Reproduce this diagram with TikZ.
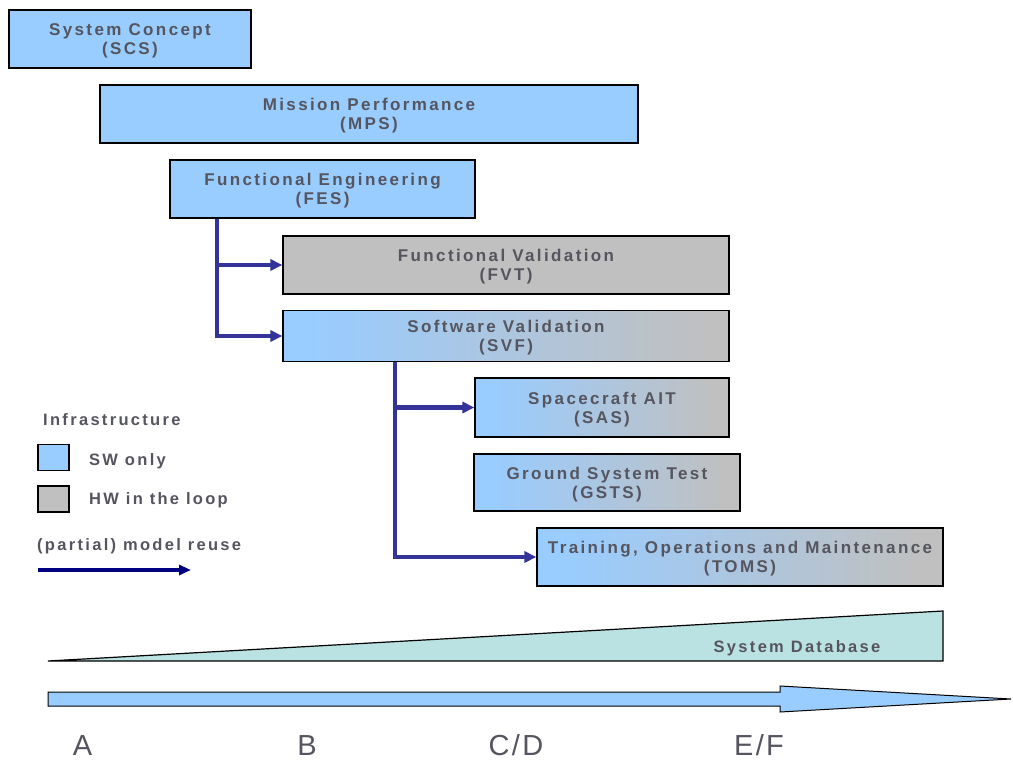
\documentclass[tikz,border=0pt]{standalone}
\usepackage{fontspec}
\setmainfont{Liberation Sans}
\newfontfamily\boxfont[LetterSpace=14]{Liberation Sans}
\newfontfamily\phasefont[LetterSpace=8]{Liberation Sans}
\usetikzlibrary{arrows.meta}

\definecolor{swblue}{RGB}{153,204,255}
\definecolor{hwgray}{RGB}{192,192,192}
\definecolor{dbteal}{RGB}{187,226,226}
\definecolor{linkblue}{RGB}{51,51,153}
\definecolor{reusenavy}{RGB}{0,0,128}
\definecolor{txtgray}{RGB}{85,85,95}

% blue on the left, fading to grey on the right
\pgfdeclarehorizontalshading{swhw}{100bp}{color(0bp)=(swblue); color(28bp)=(swblue); color(72bp)=(hwgray); color(100bp)=(hwgray)}

\tikzset{
  box/.style={draw=black, line width=1.2pt, align=center, inner sep=0pt,
    text height=34.5pt, text depth=3pt,
    text=txtgray, font=\boxfont\bfseries\fontsize{17}{19}\selectfont},
  swbox/.style={box, fill=swblue},
  hwbox/.style={box, fill=hwgray},
  mixbox/.style={box, shading=swhw},
  link/.style={draw=linkblue, line width=4.5pt,
    -{Triangle[length=12pt,width=11pt]}},
  legendtxt/.style={anchor=west, inner sep=0pt, text=txtgray,
    font=\boxfont\bfseries\fontsize{16.5}{19}\selectfont},
  phase/.style={inner sep=0pt, anchor=base, text=txtgray,
    font=\phasefont\fontsize{29}{33}\selectfont},
}

\begin{document}
\begin{tikzpicture}[x=1pt, y=-1pt]
\useasboundingbox[fill=white] (0,0) rectangle (1013,760);

% infrastructure boxes
\node[swbox, minimum width=242pt, minimum height=58pt] (scs) at (130,39) {System Concept\\(SCS)};
\node[swbox, minimum width=538pt, minimum height=58pt] (mps) at (369,114) {Mission Performance\\(MPS)};
\node[swbox, minimum width=305pt, minimum height=58pt] (fes) at (322.5,189) {Functional Engineering\\(FES)};
\node[hwbox, minimum width=446pt, minimum height=58pt] (fvt) at (506,265) {Functional Validation\\(FVT)};
\node[mixbox, minimum width=446pt, minimum height=51pt] (svf) at (506,336) {Software Validation\\(SVF)};
\node[mixbox, minimum width=254pt, minimum height=59pt] (sas) at (602,407.5) {Spacecraft AIT\\(SAS)};
\node[mixbox, minimum width=266pt, minimum height=57pt] (gsts) at (607,482.5) {Ground System Test\\(GSTS)};
\node[mixbox, minimum width=406pt, minimum height=58pt] (toms) at (740,557) {Training, Operations and Maintenance\\(TOMS)};

% model reuse connectors
\draw[link] ([xshift=-105.5pt]fes.south) |- (fvt.west);
\draw[link] ([xshift=-105.5pt]fes.south) |- (svf.west);
\draw[link] ([xshift=-111pt]svf.south) |- (sas.west);
\draw[link] ([xshift=-111pt]svf.south) |- (toms.west);

% legend
\node[legendtxt] (legtitle) at (43,420) {Infrastructure};
\node[draw=black, line width=1.2pt, fill=swblue, minimum width=31pt, minimum height=26pt, inner sep=0pt] (legsw) at (53.5,457.5) {};
\node[legendtxt] (legswtxt) at (89,461) {SW only};
\node[draw=black, line width=1.2pt, fill=hwgray, minimum width=31pt, minimum height=26pt, inner sep=0pt] (leghw) at (53.5,499) {};
\node[legendtxt] (leghwtxt) at (89,500) {HW in the loop};
\node[legendtxt] (legreuse) at (37,546) {(partial) model reuse};
\coordinate (reuseA) at (38,570);
\coordinate (reuseB) at (191,570);
\draw[draw=reusenavy, line width=4pt, -{Triangle[length=12pt,width=10pt]}] (reuseA) -- (reuseB);

% system database wedge
\draw[fill=dbteal, line width=1.2pt] (48,661) -- (943,611) -- (943,661) -- cycle;
\node[legendtxt, anchor=center] (sysdb) at (797,648) {System Database};

% phase arrow
\draw[fill=swblue, line width=1pt] (48,692) -- (780,692) -- (780,686) -- (1011,699)
  -- (780,712) -- (780,706) -- (48,706) -- cycle;
\node[phase] (pa) at (82.5,755) {A};
\node[phase] (pb) at (307,755) {B};
\node[phase] (pcd) at (516,755) {C/D};
\node[phase] (pef) at (759,755) {E/F};
\end{tikzpicture}
\end{document}
